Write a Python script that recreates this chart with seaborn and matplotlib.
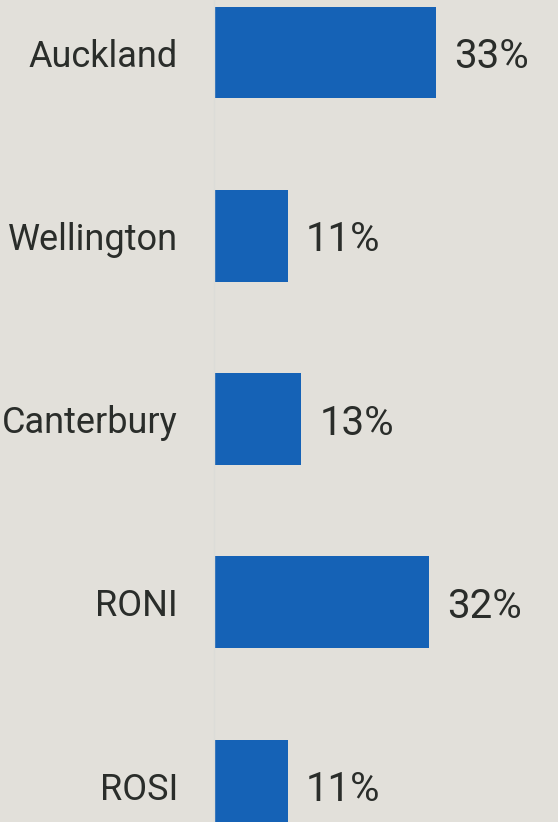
import matplotlib
matplotlib.use("Agg")
import matplotlib.pyplot as plt
import seaborn as sns
import pandas as pd

# data
regions = ["Auckland", "Wellington", "Canterbury", "RONI", "ROSI"]
shares = [33, 11, 13, 32, 11]
share_labels = ["33%", "11%", "13%", "32%", "11%"]

bg = "#e2e0da"
bar_col = "#1562b6"
txt_col = "#2a2d2a"

df = pd.DataFrame({"Region": regions, "Share": shares})

sns.set_theme(style="white")
plt.rcParams["font.family"] = ["Roboto", "DejaVu Sans"]

fig = plt.figure(figsize=(5.58, 8.22), dpi=100, facecolor=bg)
# axes placed so the chart is cropped like the reference (last bar runs off the bottom)
ax = fig.add_axes([214 / 558, 0, 1 - 214 / 558, 1])
ax.set_facecolor(bg)

sns.barplot(data=df, x="Share", y="Region", orient="h", color=bar_col,
            width=0.5, saturation=1, linewidth=0, ax=ax)

ax.set_xlim(0, (558 - 214) / 6.72)
ax.set_ylim(4.199, -0.2865)

labels = ax.bar_label(ax.containers[0], labels=share_labels, padding=13,
                      fontsize=29, color=txt_col)
for t in labels:
    t.set_va("center_baseline")

ax.set_xlabel("")
ax.set_ylabel("")
ax.set_xticks([])
ax.tick_params(axis="y", length=0, pad=26, labelsize=26, labelcolor=txt_col)
for s in ["top", "right", "bottom"]:
    ax.spines[s].set_visible(False)
ax.spines["left"].set_color("#dcdcd8")
ax.spines["left"].set_linewidth(1)

fig.savefig("out.png", dpi=100, facecolor=bg)
